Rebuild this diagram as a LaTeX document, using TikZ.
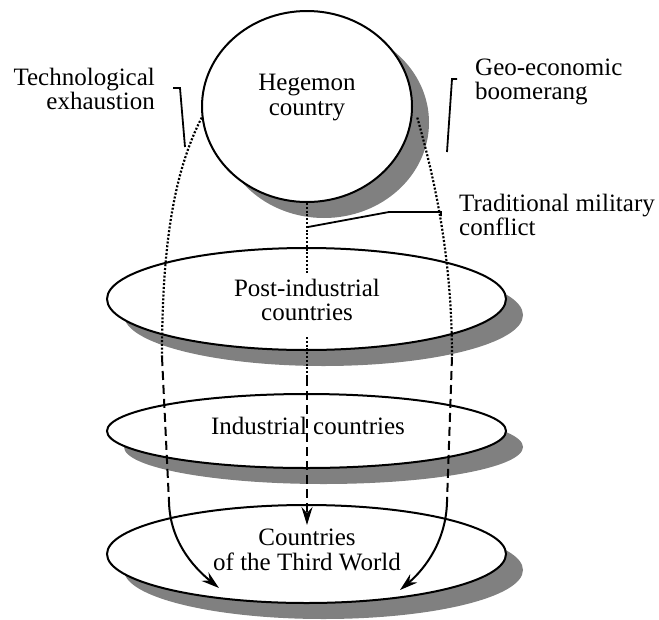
\documentclass[tikz,border=0pt]{standalone}
\usepackage{fontspec}
\setmainfont{Liberation Serif}
\usetikzlibrary{shapes.geometric,shadows,arrows.meta}

\definecolor{varjo}{HTML}{808080}

\begin{document}
\begin{tikzpicture}[x=1pt,y=-1pt,
  maa/.style={ellipse,draw,line width=2pt,fill=white,inner sep=0pt,minimum width=399pt,
    drop shadow={shadow xshift=17pt,shadow yshift=-16pt,fill=varjo,opacity=1}},
  teksti/.style={align=center,inner sep=0pt,font=\fontsize{25}{24.5}\selectfont},
  pisteet/.style={line width=2.2pt,dash pattern=on 2pt off 1.8pt},
  viivat/.style={line width=2pt,dash pattern=on 9pt off 5pt},
  nuoli/.style={line width=2pt,-{Stealth[length=18pt,width=11pt,inset=6pt]}},
  selite/.style={line width=1.8pt}]
  \useasboundingbox (0,0) rectangle (659,619);

  \node[maa,minimum width=210pt,minimum height=191pt] (hegemon) at (307,106.5) {};
  \node[maa,minimum height=102pt] (postind) at (306.5,299) {};
  \node[maa,minimum height=74pt] (ind) at (306.5,431) {};
  \node[maa,minimum height=98pt] (third) at (306.5,554) {};

  \node[teksti] (hegtxt) at (307,97.5) {Hegemon\\country};
  \node[teksti,align=right,anchor=east] (tekno) at (155,89) {Technological\\exhaustion};
  \node[teksti,align=left,anchor=west] (geo) at (475,82) {Geo-economic\\boomerang};
  \node[teksti,align=left,anchor=west] (sota) at (459,215) {Traditional military\\conflict};
  \node[teksti] (posttxt) at (307,300) {Post-industrial\\countries};
  \node[teksti] (indtxt) at (308,426) {Industrial countries};
  \node[teksti] (thirdtxt) at (307,550) {Countries\\of the Third World};

  \coordinate (vasen1) at (162,357);
  \coordinate (vasen2) at (169,502);
  \coordinate (vasenkarki) at (219,588);
  \coordinate (oikea1) at (452,357);
  \coordinate (oikea2) at (447,502);
  \coordinate (oikeakarki) at (400,590);
  \coordinate (keski1) at (307,337);
  \coordinate (keski2) at (307,377);
  \coordinate (keskikarki) at (307,525);

  \draw[pisteet] (hegemon.186) .. controls (175,170) and (162,240) .. (vasen1);
  \draw[viivat] (vasen1) -- (vasen2);
  \draw[nuoli] (vasen2) .. controls (170,540) and (192,566) .. (vasenkarki);

  \draw[pisteet] ([xshift=5pt]hegemon.-6) .. controls (432,170) and (452,250) .. (oikea1);
  \draw[viivat] (oikea1) -- (oikea2);
  \draw[nuoli] (oikea2) .. controls (446,540) and (426,568) .. (oikeakarki);

  \draw[pisteet] (hegemon.south) -- ([yshift=5pt]posttxt.north);
  \draw[pisteet] (keski1) -- (keski2);
  \draw[viivat,nuoli] (keski2) -- (keskikarki);

  \draw[selite] (173,88) -- (180,88) -- (185,147);
  \draw[selite] (457,79) -- (452,79) -- (447,152);
  \draw[selite] (308,227) -- (389,212) -- (441,212) -- (441,216);
\end{tikzpicture}
\end{document}
